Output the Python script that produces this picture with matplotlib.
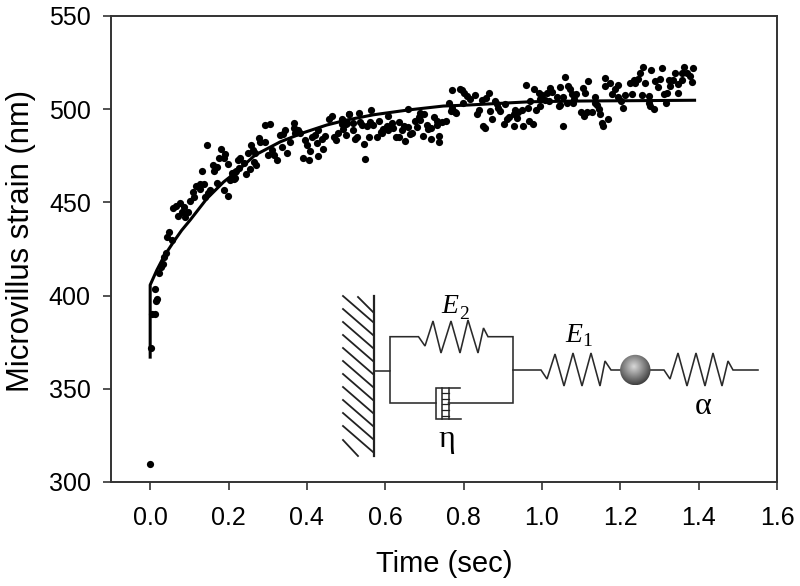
import numpy as np
import matplotlib
matplotlib.use('Agg')
import matplotlib.pyplot as plt
from matplotlib.patches import Circle

plt.rcParams['font.family'] = ['Liberation Sans', 'DejaVu Sans']

time_early = [0.0, 0.002, 0.004, 0.013, 0.015, 0.017, 0.013, 0.023, 0.027, 0.032, 0.036, 0.041,
              0.055, 0.044, 0.048, 0.088, 0.072, 0.096, 0.080, 0.085, 0.059, 0.066, 0.076,
              0.102, 0.112, 0.140, 0.148, 0.109, 0.199, 0.188, 0.153, 0.126, 0.117, 0.127,
              0.136, 0.170, 0.204, 0.216, 0.208, 0.219, 0.132, 0.163, 0.171, 0.160, 0.197,
              0.223, 0.187, 0.176, 0.191, 0.180, 0.144]
strain_early = [309.5, 372, 390, 390, 397, 398, 403.5, 412, 415.5, 417, 420.5, 422.7,
                430, 431.6, 434, 442, 442.7, 445, 445, 447.7, 447, 448, 449.5,
                451, 453, 453, 455, 455.8, 453.6, 456.7, 456.7, 457, 459, 460,
                460, 460.6, 462, 463, 466, 467, 467, 467, 469, 470, 470.6,
                473, 473.7, 473.7, 476, 478.5, 481]

time_mid1 = [0.293, 0.304, 0.366, 0.344, 0.365, 0.331, 0.339, 0.377, 0.382, 0.369, 0.462, 0.454,
             0.488, 0.505, 0.499, 0.488, 0.428, 0.420, 0.411, 0.445, 0.437, 0.424, 0.394,
             0.399, 0.439, 0.407, 0.427, 0.388, 0.403, 0.348, 0.335, 0.355, 0.322, 0.316,
             0.301, 0.310, 0.293, 0.276, 0.280, 0.256, 0.261, 0.248, 0.267, 0.229, 0.238,
             0.265, 0.270, 0.253, 0.243, 0.225, 0.216, 0.208, 0.214, 0.468, 0.473, 0.479]
strain_mid1 = [491.5, 492, 492.7, 489, 489.7, 486, 486.5, 488.8, 487, 487, 496.3, 494.5,
               495, 497.4, 492, 492, 488.8, 486, 485, 485.6, 483.8, 481.6, 483.4,
               481, 478.6, 477.7, 475, 474, 472.7, 476.6, 479.9, 482.5, 472.7, 475.4,
               475.4, 478, 482.5, 484.3, 482.5, 480.8, 478, 476.3, 476.3, 473.6, 471,
               471.8, 470, 467.7, 465.5, 468.2, 466.4, 463.7, 462.3, 485.2, 483.4, 487]

time_mid2 = [0.562, 0.506, 0.530, 0.657, 0.761, 0.766, 0.779, 0.606, 0.687, 0.697, 0.683,
             0.723, 0.674, 0.687, 0.488, 0.500, 0.517, 0.534, 0.560, 0.581, 0.634, 0.729,
             0.753, 0.742, 0.539, 0.551, 0.568, 0.615, 0.645, 0.657, 0.704, 0.729, 0.602,
             0.592, 0.619, 0.679, 0.640, 0.708, 0.490, 0.516, 0.590, 0.606, 0.666, 0.662,
             0.499, 0.526, 0.522, 0.556, 0.578, 0.626, 0.632, 0.694, 0.734, 0.714, 0.736,
             0.649, 0.543, 0.546, 0.715, 0.587]
strain_mid2 = [499.6, 497.4, 497.8, 499.9, 503.1, 499.2, 497.8, 496.3, 498.1, 497.2, 496,
               496, 493.8, 494, 494, 492.4, 492.4, 493.3, 493.3, 493.8, 493.3, 493.7,
               493.8, 493, 491.5, 491, 491.5, 492.4, 491, 490.3, 491.5, 491.5, 491,
               489.2, 489.7, 490.3, 488.8, 489.2, 489.2, 488.8, 487, 489, 487.4, 486.7,
               486.2, 485.3, 483.8, 485.3, 484.9, 484.9, 484.9, 485.8, 485.8, 483.8, 482.6,
               483.1, 481.3, 473.3, 489.7, 488]

time_mid3 = [0.957, 0.769, 0.787, 0.793, 0.799, 0.806, 0.827, 0.814, 0.861, 0.855, 0.844,
             0.976, 1.018, 0.988, 0.997, 1.009, 1.022, 0.992, 1.005, 1.035, 1.014, 0.967,
             1.039, 0.878, 0.882, 0.903, 0.795, 0.768, 0.776, 0.836, 0.831, 0.886, 0.891,
             0.865, 0.929, 0.946, 0.960, 0.981, 0.992, 0.925, 0.937, 0.870, 0.914, 0.908,
             0.933, 0.848, 0.852, 0.899, 0.925, 0.948, 0.965, 0.973]
strain_mid3 = [513, 510.2, 510.8, 510.2, 508.5, 507.2, 507.6, 505.4, 508.5, 506.1, 505.2,
               511.1, 511.5, 508.5, 507.6, 508.5, 509.4, 505.4, 504.9, 506.7, 504.3, 504.3,
               501.8, 504.3, 502.6, 502.6, 503.1, 500.4, 498.3, 499.5, 497.2, 500.4, 499,
               499, 499.5, 499.5, 500.4, 499.5, 501.8, 497.2, 498.6, 494.7, 496, 494.7,
               495.4, 491.1, 489.7, 492, 491.1, 491, 493.6, 492]

time_late = [1.359, 1.382, 1.303, 1.255, 1.275, 1.247, 1.336, 1.353, 1.367, 1.374, 1.056, 1.156,
             1.115, 1.319, 1.331, 1.353, 1.378, 1.297, 1.285, 1.259, 1.242, 1.230, 1.221,
             1.234, 1.170, 1.158, 1.191, 1.323, 1.342, 1.064, 1.043, 1.100, 1.291, 1.183,
             1.068, 1.107, 1.314, 1.306, 1.342, 1.073, 1.084, 1.174, 1.227, 1.251, 1.268,
             1.208, 1.051, 1.132, 1.191, 1.079, 1.197, 1.060, 1.075, 1.132, 1.268, 1.312,
             1.043, 1.136, 1.204, 1.272, 1.283, 1.141, 1.096, 1.111, 1.124, 1.104, 1.144,
             1.166, 1.149, 1.152, 1.049]
strain_late = [522.9, 522, 522, 522.5, 521.1, 519.6, 519.6, 519.3, 519.6, 517.8, 517.5, 516.6,
               515.3, 515.7, 515.7, 515.7, 514.8, 516.2, 515.2, 514.3, 516, 515.7, 514.3,
               513.9, 513.9, 512.5, 513, 512.5, 513.4, 512.5, 511.8, 511.2, 512.1, 510.7,
               510.7, 508.9, 508.9, 508, 508.5, 508, 508.2, 508, 508, 507.7, 507.3,
               507.7, 506.8, 506.8, 506.8, 505.3, 504.6, 503.5, 503.2, 503.5, 503.2, 503.2,
               502.3, 502.3, 500.7, 501.7, 500, 500, 498.7, 498.7, 498.7, 496.6, 497.5,
               494.6, 492.4, 491, 491.2]

# fitted curve
fit_time = [0.0, 0.0, 0.017, 0.035, 0.06, 0.08, 0.102, 0.144, 0.187, 0.22, 0.267, 0.331, 0.39,
            0.449, 0.50, 0.568, 0.657, 0.746, 0.806, 0.967, 1.1, 1.25, 1.385]
fit_strain = [367, 405.7, 413.7, 421, 429, 435, 440.6, 452, 461, 466.5, 475.4, 482.5, 487.4,
              491.5, 494.2, 497, 499.6, 501.7, 502.2, 504, 504.4, 504.6, 504.8]

x_ticks = [0.0, 0.2, 0.4, 0.6, 0.8, 1.0, 1.2, 1.4, 1.6]
y_ticks = [300, 350, 400, 450, 500, 550]

# times above were read with a tick spacing a little too wide
TIME_FIX = 393 / 391.7


def draw_model(fig):
    # overlay in picture pixels for the spring and dashpot sketch
    ov = fig.add_axes([0, 0, 1, 1])
    ov.set_xlim(0, 800)
    ov.set_ylim(586, 0)
    ov.axis('off')
    ov.patch.set_alpha(0)

    line = dict(color='#2a2a2a', lw=1.15, solid_joinstyle='miter')

    # wall and hatching
    ov.plot([374, 374], [296, 456], color='#222222', lw=1.6)
    ov.plot([358, 373], [297, 312], color='#222222', lw=1.3)
    for y0 in np.arange(296, 430, 13.0):
        ov.plot([343, 373], [y0, y0 + 26], color='#222222', lw=1.3)
    ov.plot([343, 358], [440, 456], color='#222222', lw=1.3)

    # parallel branch
    ov.plot([436, 390, 390, 374], [403, 403, 370.7, 370.7], **line)
    ov.plot([390, 390, 418.5, 425, 433, 441, 451, 460, 468, 478, 483.5, 488, 513, 513, 448.5],
            [370.7, 336.7, 336.7, 346, 321, 353, 321, 353, 320, 353, 328, 336.7, 336.7, 403, 403],
            **line)
    ov.plot([513, 541, 547, 555, 564, 573, 582, 591, 600, 605, 611, 620],
            [370, 370, 379, 354, 386, 353, 386, 353, 386, 361, 370, 370], **line)
    ov.plot([650, 664, 670, 678, 687, 696, 705, 713, 722, 728, 733, 758],
            [370, 370, 379, 353, 386, 353, 386, 353, 386, 361, 370, 370], **line)

    # dashpot
    ov.plot([460, 436, 436, 461], [388, 388, 419, 419], **line)
    ov.plot([442, 442], [388, 419], **line)
    ov.plot([448.5, 448.5], [388, 419], **line)
    for y in [393, 399, 404, 410, 416]:
        ov.plot([442, 448.5], [y, y], color='#222222', lw=0.9)

    # mass, shaded by hand with a radial ramp
    yy, xx = np.mgrid[-1:1:80j, -1:1:80j]
    r = np.hypot(xx + 0.1, yy + 0.2)
    im = ov.imshow(np.clip(0.85 - 0.5 * r, 0.2, 1), cmap='gray', vmin=0, vmax=1,
                   extent=[620, 650.6, 385.3, 354.7], aspect='auto', zorder=3, interpolation='bilinear')
    ball = Circle((635.3, 370), 15.2, transform=ov.transData, fc='none', ec='none')
    ov.add_patch(ball)
    im.set_clip_path(ball)
    ov.set_xlim(0, 800)
    ov.set_ylim(586, 0)

    serif = ['Liberation Serif', 'DejaVu Serif']
    ov.text(450, 313, 'E', family=serif, style='italic', fontsize=20, ha='center', va='baseline')
    ov.text(464, 319, '2', family=serif, fontsize=14, ha='center', va='baseline')
    ov.text(574, 342, 'E', family=serif, style='italic', fontsize=20, ha='center', va='baseline')
    ov.text(587, 346, '1', family=serif, fontsize=14, ha='center', va='baseline')
    ov.text(447, 447, 'η', family=serif, fontsize=23, ha='center', va='baseline')
    ov.text(703, 414, 'α', family=serif, fontsize=23, ha='center', va='baseline')


def main():
    fig = plt.figure(figsize=(8, 5.86), dpi=100)
    ax = fig.add_axes([111 / 800, 1 - 482 / 586, 666 / 800, 466 / 586])

    t = time_early + time_mid1 + time_mid2 + time_mid3 + time_late
    s = strain_early + strain_mid1 + strain_mid2 + strain_mid3 + strain_late
    ax.plot(np.array(t) * TIME_FIX, s, 'o', color='black', ms=5.2, mew=0, clip_on=False)
    ax.plot(np.array(fit_time) * TIME_FIX, fit_strain, color='black', lw=2.2, solid_joinstyle='round')

    ax.set_xlim(-0.1, 1.6)
    ax.set_ylim(300, 550)
    ax.set_xticks(x_ticks)
    ax.set_xticklabels(['%.1f' % v for v in x_ticks])
    ax.set_yticks(y_ticks)
    ax.tick_params(length=5.5, width=1.2, color='#333333', labelsize=18, pad=9)
    ax.tick_params(axis='x', pad=12)
    for sp in ax.spines.values():
        sp.set_linewidth(1.4)
        sp.set_color('#333333')
    ax.set_xlabel('Time (sec)', fontsize=21, labelpad=14)
    ax.set_ylabel('Microvillus strain (nm)', fontsize=22.3, labelpad=9.5, y=0.517)

    draw_model(fig)
    fig.savefig('out.png', dpi=100)
    plt.close(fig)


if __name__ == '__main__':
    main()
